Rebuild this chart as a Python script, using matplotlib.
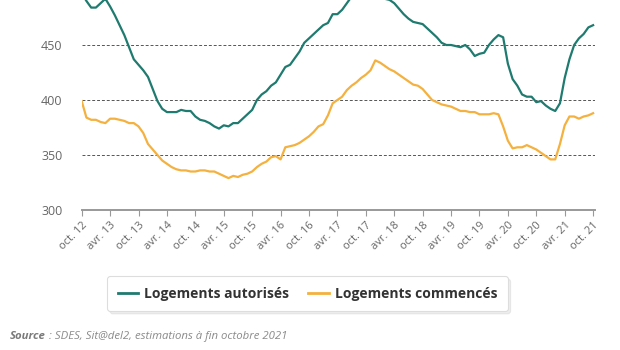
import matplotlib
matplotlib.use("Agg")
import matplotlib.pyplot as plt
import numpy as np

# Monthly series, October 2012 to October 2021 (thousands of dwellings, 12-month rolling)
months_count = 109
autorises = [
    497, 490, 484, 484, 488, 492, 485, 477, 468, 459, 448, 437, 432,
    427, 421, 410, 399, 392, 389, 389, 389, 391, 390, 390, 385, 382,
    381, 379, 376, 374, 377, 376, 379, 379, 383, 387, 391, 400, 405,
    408, 413, 416, 423, 430, 432, 438, 444, 452, 456, 460, 464, 468,
    470, 478, 478, 482, 488, 494, 498, 500, 500, 500, 498, 495, 492,
    491, 488, 483, 478, 474, 471, 470, 469, 465, 461, 457, 452, 450,
    450, 449, 448, 450, 446, 440, 442, 443, 450, 455, 459, 457, 433,
    419, 413, 405, 403, 403, 398, 399, 395, 392, 390, 397, 420, 437,
    450, 456, 460, 466, 468,
]
commences = [
    399, 384, 382, 382, 380, 379, 383, 383, 382, 381, 379, 379, 376,
    370, 360, 355, 350, 345, 342, 339, 337, 336, 336, 335, 335, 336,
    336, 335, 335, 333, 331, 329, 331, 330, 332, 333, 335, 339, 342,
    344, 348, 349, 346, 357, 358, 359, 361, 364, 367, 371, 376, 378,
    386, 397, 400, 403, 409, 413, 416, 420, 423, 427, 436, 434, 431,
    428, 426, 423, 420, 417, 414, 413, 410, 405, 400, 398, 396, 395,
    394, 392, 390, 390, 389, 389, 387, 387, 387, 388, 387, 376, 363,
    356, 357, 357, 359, 357, 355, 352, 349, 346, 346, 360, 377, 385,
    385, 383, 385, 386, 388,
]
tick_labels = [
    "oct. 12", "avr. 13", "oct. 13", "avr. 14", "oct. 14", "avr. 15",
    "oct. 15", "avr. 16", "oct. 16", "avr. 17", "oct. 17", "avr. 18",
    "oct. 18", "avr. 19", "oct. 19", "avr. 20", "oct. 20", "avr. 21",
    "oct. 21",
]
y_ticks = [300, 350, 400, 450]
grid_levels = [350, 400, 450]
series_names = ["Logements autorisés", "Logements commencés"]

TEAL = "#1f7a6f"
ORANGE = "#f4b13f"
GREY_TXT = "#666666"

plt.rcParams["font.family"] = ["Open Sans", "DejaVu Sans"]

fig = plt.figure(figsize=(6.2, 3.5), dpi=100)
ax = fig.add_axes([81.7 / 620, 0.4, 513.3 / 620, 0.6])

x = np.arange(months_count)
ax.plot(x, autorises, color=TEAL, lw=1.6, label=series_names[0], solid_joinstyle="round")
ax.plot(x, commences, color=ORANGE, lw=1.6, label=series_names[1], solid_joinstyle="round")

for lvl in grid_levels:
    ax.axhline(lvl, color="#555555", lw=0.7, ls=(0, (3, 2)), zorder=0)

ax.set_xlim(0, 108.4)
ax.set_ylim(300, 490.9)

for side in ("top", "right", "left"):
    ax.spines[side].set_visible(False)
ax.spines["bottom"].set_color("#999999")
ax.spines["bottom"].set_linewidth(1.4)

ax.set_yticks(y_ticks)
ax.set_yticklabels([str(v) for v in y_ticks])
ax.tick_params(axis="y", length=0, pad=14, labelsize=9, labelcolor=GREY_TXT)

ax.set_xticks(np.arange(0, months_count, 6))
ax.set_xticklabels(tick_labels, rotation=45, ha="right", rotation_mode="anchor")
ax.tick_params(axis="x", length=4, width=0.8, color="#999999", pad=3,
               labelsize=8, labelcolor=GREY_TXT)

leg = fig.legend(loc="center", bbox_to_anchor=(0.496, 0.161), ncol=2,
                 frameon=True, fancybox=True, shadow={"color": "#cccccc", "alpha": 0.35},
                 handlelength=1.45, handletextpad=0.45, columnspacing=1.4,
                 borderpad=0.75, prop={"weight": "bold", "size": 10})
leg.get_frame().set_edgecolor("#dddddd")
leg.get_frame().set_linewidth(0.8)
for t in leg.get_texts():
    t.set_color("#333333")
for h in leg.get_lines():
    h.set_linewidth(2.0)

# Source note: bold italic prefix followed by italic body
src_y = 1 - 336.7 / 350
t1 = fig.text(10 / 620, src_y, "Source", fontsize=8.2, style="italic", weight="bold",
              color="#7a7a7a", va="center", ha="left")
fig.canvas.draw()
bb = t1.get_window_extent()
fig.text(bb.x1 / fig.bbox.width, src_y, " : SDES, Sit@del2, estimations à fin octobre 2021",
         fontsize=8.2, style="italic", color="#8a8a8a", va="center", ha="left")

fig.savefig("out.png", dpi=100)
